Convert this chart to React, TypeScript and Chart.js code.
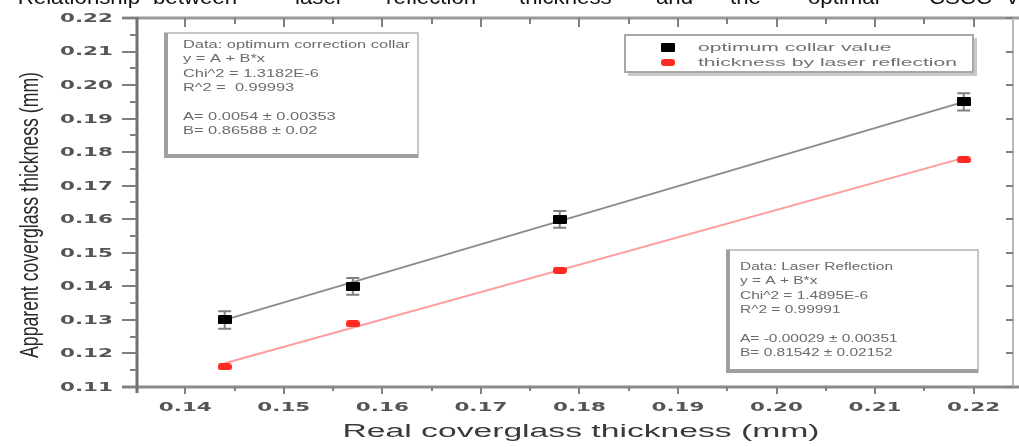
import React, { useEffect, useRef } from 'react';
import { Chart, registerables } from 'chart.js';
Chart.register(...registerables);

// ---- data ----
const realThickness = [0.144, 0.157, 0.178, 0.219];
const optimumCollar = [0.13, 0.14, 0.16, 0.195];
const optimumCollarErr = [0.0026, 0.0025, 0.0025, 0.0026];
const laserReflection = [0.116, 0.1288, 0.1448, 0.1777];
const fitX = [0.144, 0.219];
const optimumFit = [0.13, 0.195];
const laserFit = [0.1171, 0.1783];

const xTickValues = [0.14, 0.15, 0.16, 0.17, 0.18, 0.19, 0.2, 0.21, 0.22];
const xTickLabels = ['0.14', '0.15', '0.16', '0.17', '0.18', '0.19', '0.20', '0.21', '0.22'];
const yTickValues = [0.11, 0.12, 0.13, 0.14, 0.15, 0.16, 0.17, 0.18, 0.19, 0.2, 0.21, 0.22];
const yTickLabels = ['0.11', '0.12', '0.13', '0.14', '0.15', '0.16', '0.17', '0.18', '0.19', '0.20', '0.21', '0.22'];

const seriesNames = ['optimum collar value', 'thickness by laser reflection'];
const xTitle = 'Real coverglass thickness (mm)';
const yTitle = 'Apparent coverglass thickness (mm)';
const fitBox1 = ['Data: optimum correction collar', 'y = A + B*x', 'Chi^2 = 1.3182E-6', 'R^2 =  0.99993', '', 'A= 0.0054 \u00b1 0.00353', 'B= 0.86588 \u00b1 0.02'];
const fitBox2 = ['Data: Laser Reflection', 'y = A + B*x', 'Chi^2 = 1.4895E-6', 'R^2 = 0.99991', '', 'A= -0.00029 \u00b1 0.00351', 'B= 0.81542 \u00b1 0.02152'];
const headerWords = ['Relationship', 'between', 'laser', 'reflection', 'thickness', 'and', 'the', 'optimal', 'CSCC', 'value'];
const headerLefts = [null, 153, 295, 386, 519, 656, 730, 808, 929, 1007];

function stretched(ctx: CanvasRenderingContext2D, text: string, x: number, y: number, font: string, sx: number, align: CanvasTextAlign, color: string, baseline: CanvasTextBaseline = 'middle') {
  ctx.save();
  ctx.font = font;
  ctx.fillStyle = color;
  ctx.translate(x, y);
  ctx.scale(sx, 1);
  ctx.textAlign = align;
  ctx.textBaseline = baseline;
  ctx.fillText(text, 0, 0);
  ctx.restore();
}

function fitScale(ctx: CanvasRenderingContext2D, text: string, font: string, width: number) {
  ctx.save();
  ctx.font = font;
  const w = ctx.measureText(text).width;
  ctx.restore();
  return width / w;
}

function makeMarker(w: number, h: number, color: string, r: number) {
  const c = document.createElement('canvas');
  c.width = w;
  c.height = h;
  const g = c.getContext('2d')!;
  g.fillStyle = color;
  g.beginPath();
  (g as any).roundRect(0, 0, w, h, r);
  g.fill();
  return c;
}

export default function App() {
  const ref = useRef<HTMLCanvasElement | null>(null);
  useEffect(() => {
    const canvas = ref.current!;
    const blackMarker = makeMarker(14, 9, '#000000', 1);
    const redMarker = makeMarker(14, 7, '#ff2a22', 3);

    const errorBars = {
      id: 'errorBars',
      beforeDatasetsDraw(chart: any) {
        const { ctx } = chart;
        const xs = chart.scales.x;
        const ys = chart.scales.y;
        ctx.save();
        ctx.strokeStyle = '#808080';
        ctx.lineWidth = 2;
        realThickness.forEach((xv, i) => {
          const px = xs.getPixelForValue(xv);
          const top = ys.getPixelForValue(optimumCollar[i] + optimumCollarErr[i]);
          const bot = ys.getPixelForValue(optimumCollar[i] - optimumCollarErr[i]);
          ctx.beginPath();
          ctx.moveTo(px, top);
          ctx.lineTo(px, bot);
          ctx.moveTo(px - 6.5, top);
          ctx.lineTo(px + 6.5, top);
          ctx.moveTo(px - 6.5, bot);
          ctx.lineTo(px + 6.5, bot);
          ctx.stroke();
        });
        ctx.restore();
      },
    };

    const decorations = {
      id: 'decorations',
      afterDraw(chart: any) {
        const { ctx, chartArea } = chart;
        const xs = chart.scales.x;
        const ys = chart.scales.y;
        const L = chartArea.left, R = chartArea.right, T = chartArea.top, B = chartArea.bottom;

        // frame lines
        ctx.save();
        ctx.lineCap = 'butt';
        ctx.strokeStyle = '#9a9a9a';
        ctx.lineWidth = 3;
        ctx.beginPath();
        ctx.moveTo(122, T);
        ctx.lineTo(1019, T);
        ctx.stroke();
        ctx.strokeStyle = '#8a8a8a';
        ctx.beginPath();
        ctx.moveTo(122, B);
        ctx.lineTo(1019, B);
        ctx.stroke();
        ctx.strokeStyle = '#707070';
        ctx.beginPath();
        ctx.moveTo(L, T - 1);
        ctx.lineTo(L, B + 6);
        ctx.stroke();
        ctx.strokeStyle = '#b8b8b8';
        ctx.lineWidth = 2;
        ctx.beginPath();
        ctx.moveTo(R, T);
        ctx.lineTo(R, B);
        ctx.stroke();

        // ticks
        ctx.lineWidth = 2;
        ctx.strokeStyle = '#808080';
        const xMinor = xTickValues.slice(0, -1).map((v, i) => (v + xTickValues[i + 1]) / 2);
        const yMinor = yTickValues.slice(0, -1).map((v, i) => (v + yTickValues[i + 1]) / 2);
        ctx.beginPath();
        xTickValues.forEach((v) => {
          const p = Math.round(xs.getPixelForValue(v));
          ctx.moveTo(p, B); ctx.lineTo(p, B + 7);
          ctx.moveTo(p, T); ctx.lineTo(p, T + 9);
        });
        xMinor.forEach((v) => {
          const p = Math.round(xs.getPixelForValue(v));
          ctx.moveTo(p, B); ctx.lineTo(p, B + 4);
          ctx.moveTo(p, T); ctx.lineTo(p, T + 6);
        });
        yTickValues.forEach((v) => {
          const p = Math.round(ys.getPixelForValue(v));
          ctx.moveTo(L - 15, p); ctx.lineTo(L, p);
          ctx.moveTo(R - 7, p); ctx.lineTo(R, p);
        });
        yMinor.forEach((v) => {
          const p = Math.round(ys.getPixelForValue(v));
          ctx.moveTo(L - 7, p); ctx.lineTo(L, p);
        });
        ctx.stroke();
        ctx.restore();

        // tick labels
        const tickFont = 'bold 13px "DejaVu Sans"';
        const tsx = fitScale(ctx, '0.22', tickFont, 53);
        yTickValues.forEach((v, i) => {
          stretched(ctx, yTickLabels[i], 113, ys.getPixelForValue(v) + 0.5, tickFont, tsx, 'right', '#555555');
        });
        xTickValues.forEach((v, i) => {
          stretched(ctx, xTickLabels[i], xs.getPixelForValue(v), 408, tickFont, tsx, 'center', '#555555');
        });

        // axis titles
        const xtFont = '18px "Liberation Sans"';
        stretched(ctx, xTitle, 581, 432, xtFont, fitScale(ctx, xTitle, xtFont, 477), 'center', '#3a3a3a');
        const ytFont = '25px "Liberation Sans"';
        const ysx = fitScale(ctx, yTitle, ytFont, 286);
        ctx.save();
        ctx.translate(31, 215);
        ctx.rotate(-Math.PI / 2);
        stretched(ctx, yTitle, 0, 0, ytFont, ysx, 'center', '#2a2a2a');
        ctx.restore();

        // legend box
        ctx.save();
        ctx.fillStyle = '#ffffff';
        ctx.fillRect(625, 35, 348, 37);
        ctx.strokeStyle = '#a8a8a8';
        ctx.lineWidth = 2;
        ctx.strokeRect(625, 35, 348, 37);
        ctx.strokeStyle = '#c8c8c8';
        ctx.lineWidth = 3;
        ctx.beginPath();
        ctx.moveTo(975.5, 38); ctx.lineTo(975.5, 74.5); ctx.lineTo(628, 74.5);
        ctx.stroke();
        ctx.drawImage(blackMarker, 661, 43);
        ctx.drawImage(redMarker, 661, 59);
        ctx.restore();
        const lgFont = '11px "Liberation Sans"';
        const lsx = fitScale(ctx, seriesNames[1], lgFont, 259);
        stretched(ctx, seriesNames[0], 698, 47.5, lgFont, lsx, 'left', '#707070');
        stretched(ctx, seriesNames[1], 698, 62.5, lgFont, lsx, 'left', '#707070');

        // fit boxes
        const drawBox = (x0: number, y0: number, x1: number, y1: number, lines: string[], tx: number, ty: number, firstW: number) => {
          ctx.save();
          ctx.fillStyle = '#ffffff';
          ctx.fillRect(x0, y0, x1 - x0, y1 - y0);
          ctx.strokeStyle = '#b4b4b4';
          ctx.lineWidth = 1.5;
          ctx.strokeRect(x0, y0, x1 - x0, y1 - y0);
          ctx.strokeStyle = '#a0a0a0';
          ctx.lineWidth = 4;
          ctx.beginPath();
          ctx.moveTo(x0 + 1, y0);
          ctx.lineTo(x0 + 1, y1 - 1);
          ctx.lineTo(x1, y1 - 1);
          ctx.stroke();
          ctx.restore();
          const f = '11px "Liberation Sans"';
          const s = fitScale(ctx, lines[0], f, firstW);
          lines.forEach((t, i) => {
            if (t) stretched(ctx, t, tx, ty + i * 14.3, f, s, 'left', '#6a6a6a');
          });
        };
        drawBox(165, 33, 418, 157, fitBox1, 183, 45, 227);
        drawBox(727, 250, 978, 372, fitBox2, 740, 267, 153);

        // header (cut off line of surrounding text)
        const hFont = '21px "Liberation Sans"';
        const hsx = fitScale(ctx, 'between', hFont, 84);
        headerWords.forEach((w, i) => {
          const lx = headerLefts[i];
          if (lx === null) stretched(ctx, w, 140, 4, hFont, hsx, 'right', '#111111', 'alphabetic');
          else stretched(ctx, w, lx, 4, hFont, hsx, 'left', '#111111', 'alphabetic');
        });
      },
    };

    const chart = new Chart(canvas, {
      type: 'scatter',
      data: {
        datasets: [
          {
            label: seriesNames[0],
            data: realThickness.map((x, i) => ({ x, y: optimumCollar[i] })),
            pointStyle: blackMarker as any,
            showLine: false,
            order: 0,
          },
          {
            label: seriesNames[1],
            data: realThickness.map((x, i) => ({ x, y: laserReflection[i] })),
            pointStyle: redMarker as any,
            showLine: false,
            order: 0,
          },
          {
            label: 'fit optimum',
            data: fitX.map((x, i) => ({ x, y: optimumFit[i] })),
            showLine: true,
            pointRadius: 0,
            borderColor: '#8c8c8c',
            borderWidth: 2,
            order: 1,
          },
          {
            label: 'fit laser',
            data: fitX.map((x, i) => ({ x, y: laserFit[i] })),
            showLine: true,
            pointRadius: 0,
            borderColor: '#ff9c9c',
            borderWidth: 2,
            order: 1,
          },
        ],
      },
      options: {
        animation: false,
        responsive: false,
        devicePixelRatio: 1,
        layout: { padding: { left: 137, top: 18, right: 6, bottom: 60 } },
        scales: {
          x: { type: 'linear', min: 0.1351, max: 0.224, display: false },
          y: { type: 'linear', min: 0.11, max: 0.22, display: false },
        },
        plugins: { legend: { display: false }, tooltip: { enabled: false } },
      },
      plugins: [errorBars, decorations],
    });
    return () => chart.destroy();
  }, []);

  return (
    <div style={{ position: 'fixed', left: 0, top: 0, width: 1019, height: 447, background: '#ffffff' }}>
      <canvas ref={ref} width={1019} height={447} style={{ display: 'block', width: 1019, height: 447 }} />
    </div>
  );
}
